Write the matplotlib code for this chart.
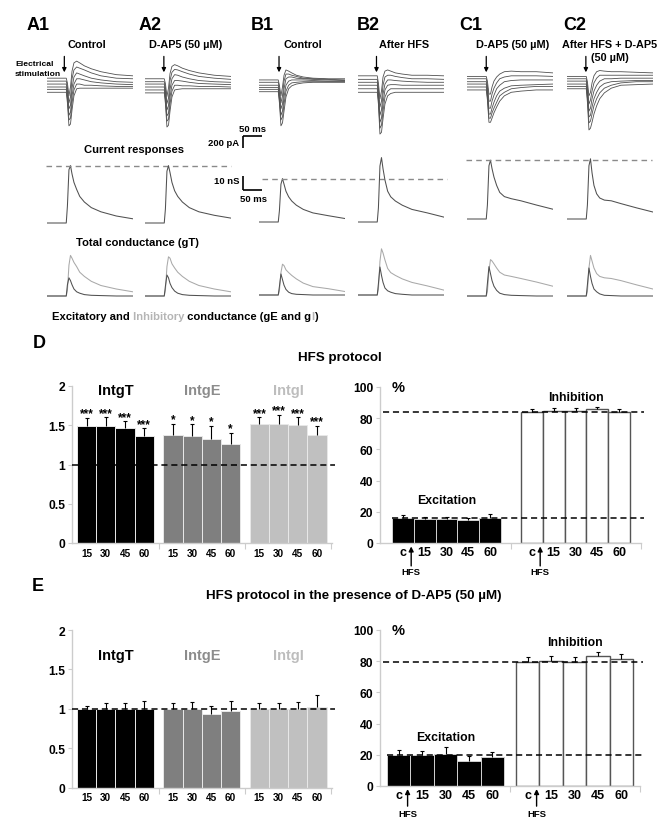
import numpy as np
import matplotlib
matplotlib.use('Agg')
import matplotlib.pyplot as plt

plt.rcParams['font.family'] = ['Liberation Sans', 'DejaVu Sans']
plt.rcParams['font.weight'] = 'bold'

# ---------------- data ----------------
panel_labels = ['A1', 'A2', 'B1', 'B2', 'C1', 'C2']
panel_titles = ['Control', 'D-AP5 (50 µM)', 'Control', 'After HFS',
                'D-AP5 (50 µM)', 'After HFS + D-AP5\n(50 µM)']

t_ms = [0, 50, 53, 57, 61, 65, 70, 77, 85, 97, 115, 140, 180, 223]

cur_A1 = [[150, 150, 70, -150, 0, 270, 410, 440, 410, 360, 310, 260, 210, 190],
          [100, 100, 0, -270, -170, 140, 290, 340, 320, 290, 240, 190, 150, 140],
          [50, 50, -70, -370, -310, -20, 170, 240, 220, 190, 150, 120, 90, 80],
          [0, 0, -140, -480, -430, -150, 50, 140, 140, 120, 90, 70, 50, 40],
          [-40, -40, -200, -560, -530, -270, -50, 50, 50, 30, 30, 20, 10, 10],
          [-90, -90, -270, -660, -630, -390, -150, -30, -20, -20, -20, -20, -20, -20]]
cur_A2 = [[140, 140, 60, -160, -20, 230, 350, 380, 360, 320, 280, 240, 200, 180],
          [90, 90, -10, -280, -190, 110, 250, 300, 290, 260, 220, 180, 150, 130],
          [50, 50, -80, -390, -320, -40, 140, 210, 200, 170, 140, 110, 90, 80],
          [0, 0, -150, -490, -450, -170, 30, 110, 110, 100, 80, 60, 50, 40],
          [-50, -50, -210, -580, -550, -290, -70, 30, 30, 20, 20, 10, 10, 0],
          [-100, -100, -280, -680, -650, -410, -170, -50, -40, -30, -30, -30, -30, -30]]
cur_B1 = [[120, 120, 30, -150, 0, 200, 290, 270, 240, 200, 170, 150, 140, 140],
          [80, 80, -30, -270, -150, 100, 220, 220, 200, 180, 150, 140, 130, 120],
          [30, 30, -100, -370, -290, -30, 140, 170, 170, 150, 140, 130, 120, 110],
          [-10, -10, -170, -480, -410, -170, 30, 100, 120, 120, 120, 110, 100, 100],
          [-40, -40, -220, -560, -510, -290, -70, 30, 70, 80, 90, 90, 90, 90],
          [-80, -80, -270, -660, -610, -410, -170, -30, 20, 50, 70, 80, 80, 80]]
cur_B2 = [[190, 190, 70, -200, -70, 170, 270, 290, 270, 240, 220, 200, 200, 190],
          [130, 130, -20, -340, -240, 30, 170, 200, 200, 180, 160, 140, 140, 130],
          [80, 80, -90, -480, -390, -120, 50, 120, 120, 110, 100, 90, 80, 80],
          [30, 30, -150, -600, -530, -270, -50, 30, 40, 40, 30, 30, 30, 30],
          [-30, -30, -220, -700, -650, -410, -170, -70, -30, -30, -30, -30, -30, -30],
          [-90, -90, -290, -800, -770, -540, -290, -150, -110, -90, -90, -90, -90, -90]]
cur_C1 = [[180, 180, 100, -120, -120, 0, 100, 170, 220, 260, 270, 260, 260, 240],
          [140, 140, 30, -240, -240, -120, -20, 70, 140, 170, 190, 190, 190, 180],
          [90, 90, -30, -360, -360, -240, -140, -30, 30, 90, 110, 120, 120, 120],
          [50, 50, -100, -460, -460, -360, -260, -150, -70, -20, 20, 30, 40, 50],
          [0, 0, -170, -530, -530, -440, -360, -260, -150, -90, -30, -10, 10, 10],
          [-50, -50, -220, -600, -600, -530, -440, -340, -240, -150, -90, -70, -50, -50]]
cur_C2 = [[180, 180, 90, -150, -90, 70, 190, 260, 280, 270, 260, 260, 250, 240],
          [140, 140, 20, -290, -220, -70, 70, 150, 200, 200, 200, 200, 200, 200],
          [100, 100, -50, -410, -360, -200, -70, 30, 100, 140, 140, 150, 150, 150],
          [50, 50, -120, -510, -480, -340, -200, -90, 0, 60, 90, 100, 110, 110],
          [10, 10, -190, -610, -580, -460, -320, -200, -100, -20, 30, 70, 90, 90],
          [-30, -30, -260, -730, -700, -600, -460, -320, -200, -100, -20, 30, 40, 50]]

gT_A1 = [0, 0, 12, 38, 41, 35, 29, 24, 19, 15, 11, 8, 5, 3]
gT_A2 = [0, 0, 10, 37, 41, 36, 29, 23, 19, 15, 11, 8, 5.5, 3.5]
gT_B1 = [0, 0, 8, 27, 31, 27, 22, 18, 15, 12, 9, 6.5, 4.5, 2.5]
gT_B2 = [0, 0, 10, 40, 46, 38, 30, 22, 18, 15, 12, 9, 6.5, 3.5]
gT_C1 = [0, 0, 10, 38, 42, 36, 30, 24, 19, 16, 14.5, 13, 10, 7]
gT_C2 = [0, 0, 10, 38, 43, 33, 24, 18, 15, 13.5, 13, 11, 8, 5]

gI_A1 = [0, 0, 4, 22, 29, 27, 24, 21, 17, 14, 10.5, 7.5, 5, 3]
gI_A2 = [0, 0, 4, 21, 28, 27, 23, 20, 17, 14, 10.5, 7.5, 5, 3]
gI_B1 = [0, 0, 3, 16, 22, 21, 18, 16, 14, 11.5, 8.5, 6, 4.5, 2.5]
gI_B2 = [0, 0, 4, 24, 33, 30, 25, 19, 16, 14, 11.5, 9, 6.5, 3.5]
gI_C1 = [0, 0, 3, 18, 26, 25, 23, 20, 17, 15, 14, 12.5, 10, 7]
gI_C2 = [0, 0, 3, 20, 29, 25, 20, 16, 14, 13, 12.5, 11, 8, 5]

gE_A1 = [0, 0, 8, 13, 11, 8, 5, 3, 2, 1, 0.5, 0.3, 0, 0]
gE_A2 = [0, 0, 7, 15, 13, 9, 6, 3.5, 2, 1, 0.5, 0.3, 0, 0]
gE_B1 = [0, 0, 6, 15, 11, 7, 4, 2, 1, 0.5, 0.3, 0, 0, 0]
gE_B2 = [0, 0, 8, 20, 14, 9, 5, 3, 2, 1, 0.5, 0, 0, 0]
gE_C1 = [0, 0, 9, 21, 16, 11, 7, 4, 2, 1, 0.5, 0.3, 0, 0]
gE_C2 = [0, 0, 8, 20, 14, 9, 5, 3, 1.5, 0.5, 0.3, 0, 0, 0]

currents = [cur_A1, cur_A2, cur_B1, cur_B2, cur_C1, cur_C2]
gT_all = [gT_A1, gT_A2, gT_B1, gT_B2, gT_C1, gT_C2]
gI_all = [gI_A1, gI_A2, gI_B1, gI_B2, gI_C1, gI_C2]
gE_all = [gE_A1, gE_A2, gE_B1, gE_B2, gE_C1, gE_C2]

# bar charts
time_labels = ['15', '30', '45', '60']
group_names = ['IntgT', 'IntgE', 'IntgI']
pct_labels = ['c', '15', '30', '45', '60']

D_IntgT = [1.49, 1.49, 1.46, 1.36]
D_IntgT_err = [0.10, 0.11, 0.09, 0.10]
D_IntgE = [1.37, 1.36, 1.33, 1.26]
D_IntgE_err = [0.15, 0.15, 0.16, 0.14]
D_IntgI = [1.52, 1.52, 1.50, 1.38]
D_IntgI_err = [0.08, 0.11, 0.10, 0.11]
D_stars = [['***'] * 4, ['*'] * 4, ['***'] * 4]

D_exc = [16.2, 15.3, 15.3, 14.6, 16.2]
D_exc_err = [1.9, 1.6, 1.6, 1.5, 2.4]
D_inh = [83.8, 84.8, 84.8, 85.6, 84.0]
D_inh_err = [1.8, 1.8, 1.7, 1.8, 1.8]

E_IntgT = [1.0, 1.0, 1.0, 1.0]
E_IntgT_err = [0.04, 0.07, 0.07, 0.10]
E_IntgE = [1.0, 1.0, 0.93, 0.97]
E_IntgE_err = [0.07, 0.09, 0.10, 0.13]
E_IntgI = [1.0, 1.0, 1.0, 1.02]
E_IntgI_err = [0.07, 0.07, 0.09, 0.15]

E_exc = [19.9, 19.6, 20.7, 16.2, 18.4]
E_exc_err = [3.4, 3.0, 4.1, 3.2, 3.6]
E_inh = [79.7, 80.3, 79.5, 83.5, 81.4]
E_inh_err = [3.0, 3.0, 3.2, 2.5, 3.2]

# ---------------- layout helpers ----------------
W, H = 672, 829
fig = plt.figure(figsize=(W / 100, H / 100), dpi=100)


def px_axes(x0, y0, x1, y1):
    return fig.add_axes([x0 / W, 1 - y1 / H, (x1 - x0) / W, (y1 - y0) / H])


def ftext(x, y, s, **kw):
    return fig.text(x / W, 1 - y / H, s, **kw)


PX_PER_MS = 0.385
T_MAX = t_ms[-1]
trace_w = T_MAX * PX_PER_MS
PA_PER_PX = 17.0
PX_PER_NS = 1.4

cur_top, cur_zero, cur_bot = 50, 88, 142
trace_x0 = [47, 145, 259, 358, 467, 567]
gT_base = [224, 224, 223, 223, 220, 220]
gEI_base = [297, 297, 296, 296, 297, 297]
stim_t = [45, 49, 52, 48, 50, 49]

label_x = [27, 139, 251, 357, 459, 563]
title_x = [87, 185.5, 303, 404, 513, 610]

TRACE = '#505050'

cur_axes, gT_axes = [], []
for i in range(6):
    x0 = trace_x0[i]
    ax = px_axes(x0, cur_top, x0 + trace_w, cur_bot)
    ax.set_xlim(0, T_MAX)
    ax.set_ylim((cur_zero - cur_bot) * PA_PER_PX, (cur_zero - cur_top) * PA_PER_PX)
    ax.axis('off')
    for tr in currents[i]:
        ax.plot(t_ms, tr, color=TRACE, lw=0.6)
    ax.annotate('', xy=(stim_t[i], 250), xytext=(stim_t[i], 520),
                arrowprops=dict(arrowstyle='-|>', color='k', lw=0.9,
                                mutation_scale=6, shrinkA=0, shrinkB=0))
    cur_axes.append(ax)

    b = gT_base[i]
    axg = px_axes(x0, b - 70, x0 + trace_w, b + 12)
    axg.set_xlim(0, T_MAX)
    axg.set_ylim(-12 / PX_PER_NS, 70 / PX_PER_NS)
    axg.axis('off')
    axg.plot(t_ms, gT_all[i], color=TRACE, lw=0.75)
    gT_axes.append(axg)

    b2 = gEI_base[i]
    axe = px_axes(x0, b2 - 70, x0 + trace_w, b2 + 12)
    axe.set_xlim(0, T_MAX)
    axe.set_ylim(-12 / PX_PER_NS, 70 / PX_PER_NS)
    axe.axis('off')
    axe.plot(t_ms, gI_all[i], color='#a9a9a9', lw=0.75)
    axe.plot(t_ms, gE_all[i], color=TRACE, lw=0.75)

    ftext(label_x[i], 25, panel_labels[i], fontsize=13, ha='left', va='center')
    for k, line in enumerate(panel_titles[i].split('\n')):
        ftext(title_x[i], 48 + 13 * k, line, fontsize=7.8, ha='center', va='baseline')

# dashed reference lines on total conductance
dash_spans = [(0, 46, 231), (2, 262, 447), (4, 466, 652)]
for idx, p0, p1 in dash_spans:
    ax = gT_axes[idx]
    x0 = trace_x0[idx]
    ax.axhline(max(gT_all[idx]), xmin=(p0 - x0) / trace_w, xmax=(p1 - x0) / trace_w,
               color='#8a8a8a', lw=1.0, ls=(0, (4, 3)), clip_on=False)

# scale bars (in B1 axes units)
sb_t0 = -41
axc = cur_axes[2]
axc.plot([sb_t0, sb_t0 + 50], [-830, -830], color='k', lw=1.2, clip_on=False, solid_capstyle='butt')
axc.plot([sb_t0, sb_t0], [-830, -1030], color='k', lw=1.2, clip_on=False, solid_capstyle='butt')
axg = gT_axes[2]
axg.plot([sb_t0, sb_t0 + 50], [23, 23], color='k', lw=1.2, clip_on=False, solid_capstyle='butt')
axg.plot([sb_t0, sb_t0], [23, 33], color='k', lw=1.2, clip_on=False, solid_capstyle='butt')
ftext(252.5, 129, '50 ms', fontsize=6.8, ha='center', va='center')
ftext(239, 143, '200 pA', fontsize=6.8, ha='right', va='center')
ftext(239, 182, '10 nS', fontsize=6.8, ha='right', va='center')
ftext(253, 200, '50 ms', fontsize=6.8, ha='center', va='center')

ftext(15, 64, 'Electrical', fontsize=6.1, ha='left', va='center')
ftext(15, 74, 'stimulation', fontsize=6.1, ha='left', va='center')
ftext(134, 150, 'Current responses', fontsize=8.1, ha='center', va='center')
ftext(137, 243, 'Total conductance (gT)', fontsize=8.1, ha='center', va='center')

parts = [('Excitatory and', 'k'), (' Inhibitory', '#b5b5b5'),
         (' conductance (gE and g', 'k'), ('I', '#b5b5b5'), (')', 'k')]
prev = ftext(52, 317, parts[0][0], fontsize=8.1, color=parts[0][1], ha='left', va='center')
for s, c in parts[1:]:
    prev = cur_axes[0].annotate(s, xy=(1, 0), xycoords=prev, ha='left', va='bottom',
                                fontsize=8.1, color=c, annotation_clip=False)

# ---------------- bar charts ----------------
SPINE = '#cccccc'
grp_colors = ['#000000', '#7f7f7f', '#c0c0c0']
grp_label_colors = ['#000000', '#8c8c8c', '#bdbdbd']


def style_axes(ax):
    for s in ['top', 'right']:
        ax.spines[s].set_visible(False)
    for s in ['left', 'bottom']:
        ax.spines[s].set_color(SPINE)
        ax.spines[s].set_linewidth(1.0)
    ax.tick_params(axis='y', length=3, width=0.8, color=SPINE, labelsize=8.7, pad=2)


def up_err(ax, x, v, e):
    cont = ax.errorbar(x, v, yerr=[np.zeros(len(v)), e], fmt='none', ecolor='k',
                       elinewidth=0.8, capsize=1.6, capthick=0.8, zorder=4)
    cont[1][0].set_visible(False)


def left_chart(rect, groups, errs, label_val, stars=None):
    ax = px_axes(*rect)
    style_axes(ax)
    bw_px = 19.2
    first_px = 77
    ax.set_xlim((rect[0] - first_px) / bw_px, (rect[2] - first_px) / bw_px)
    ax.set_ylim(0, 2)
    ax.set_yticks([0, 0.5, 1, 1.5, 2])
    ax.set_yticklabels(['0', '0.5', '1', '1.5', '2'])
    centers_all, labels_all = [], []
    for g in range(3):
        xs = [g * 4.5 + i + 0.5 for i in range(4)]
        ax.bar(xs, groups[g], width=1.0, color=grp_colors[g], edgecolor='#e8e8e8',
               linewidth=0.7, zorder=2)
        up_err(ax, xs, groups[g], errs[g])
        if stars is not None:
            for x, v, e, s in zip(xs, groups[g], errs[g], stars[g]):
                ax.annotate(s, xy=(x, v + e), xytext=(0, 1.2), textcoords='offset points',
                            ha='center', va='baseline', fontsize=8.5)
        ax.text(g * 4.5 + 2.0, label_val, group_names[g], color=grp_label_colors[g],
                fontsize=10.5, ha='center', va='center')
        centers_all += xs
        labels_all += time_labels
    ax.set_xticks(centers_all)
    ax.set_xticklabels(labels_all)
    ax.tick_params(axis='x', which='major', length=0, labelsize=7.2, pad=3.5)
    ax.set_xticks([4.25, 8.75, 13.25], minor=True)
    ax.tick_params(axis='x', which='minor', length=4, width=0.8, color=SPINE)
    ax.axhline(1, color='k', lw=1.1, ls=(0, (4, 2.5)), zorder=5, xmax=1.012, clip_on=False)
    return ax


def right_chart(rect, bw_px, exc_px, inh_px, exc, exc_err, inh, inh_err,
                exc_label_val, inh_label_val, arrow_pts):
    ax = px_axes(*rect)
    style_axes(ax)
    left_u = (rect[0] - exc_px) / bw_px
    right_u = (rect[2] - exc_px) / bw_px
    inh_u = (inh_px - exc_px) / bw_px
    ax.set_xlim(left_u, right_u)
    ax.set_ylim(0, 100)
    ax.set_yticks([0, 20, 40, 60, 80, 100])
    xe = [i + 0.5 for i in range(5)]
    xi = [inh_u + i + 0.5 for i in range(5)]
    ax.bar(xe, exc, width=1.0, color='black', edgecolor='#d0d0d0', linewidth=0.7, zorder=2)
    ax.bar(xi, inh, width=1.0, color='white', edgecolor='#555555', linewidth=1.0, zorder=2)
    up_err(ax, xe, exc, exc_err)
    up_err(ax, xi, inh, inh_err)
    ax.axhline(inh[0], color='k', lw=1.1, ls=(0, (4, 2.5)), zorder=5, clip_on=False,
               xmin=0.01, xmax=1.01)
    ax.axhline(exc[0], color='k', lw=1.1, ls=(0, (4, 2.5)), zorder=5, clip_on=False,
               xmin=(0 - left_u) / (right_u - left_u), xmax=1.01)
    ax.set_xticks(xe + xi)
    ax.set_xticklabels(pct_labels + pct_labels)
    ax.tick_params(axis='x', which='major', length=0, labelsize=9, pad=2.5)
    mid = (5 + inh_u) / 2
    ax.set_xticks([mid, right_u - 0.02], minor=True)
    ax.tick_params(axis='x', which='minor', length=4, width=0.8, color=SPINE)
    ax.text(2.5, exc_label_val, 'Excitation', fontsize=8.8, ha='center', va='center')
    ax.text(inh_u + 2.5, inh_label_val, 'Inhibition', fontsize=8.8, ha='center', va='center')
    ax.text(0.045, 1.0, '%', transform=ax.transAxes, fontsize=10.5, ha='left', va='center')
    tip, tail, lab = arrow_pts
    for base in (0.0, inh_u):
        u = base + 0.88
        ax.annotate('', xy=(u, -tip), xycoords=('data', 'axes points'),
                    xytext=(u, -tail), textcoords=('data', 'axes points'),
                    arrowprops=dict(arrowstyle='-|>', color='k', lw=1.0, mutation_scale=7,
                                    shrinkA=0, shrinkB=0), annotation_clip=False)
        ax.annotate('HFS', xy=(u, -lab), xycoords=('data', 'axes points'),
                    ha='center', va='center', fontsize=6.8, annotation_clip=False)
    return ax


# Panel D
ftext(33, 343, 'D', fontsize=13, ha='left', va='center')
ftext(340, 358, 'HFS protocol', fontsize=9.6, ha='center', va='center')
left_chart((72, 387, 332, 544), [D_IntgT, D_IntgE, D_IntgI],
           [D_IntgT_err, D_IntgE_err, D_IntgI_err], 1.95, D_stars)
right_chart((380, 388, 641, 544), 21.8, 392, 521, D_exc, D_exc_err, D_inh, D_inh_err,
            27.6, 93.8, (2.5, 16.5, 20.5))

# Panel E
ftext(32, 587, 'E', fontsize=13, ha='left', va='center')
ftext(354, 596, 'HFS protocol in the presence of D-AP5 (50 µM)', fontsize=9.6,
      ha='center', va='center')
left_chart((72, 631, 332, 788.5), [E_IntgT, E_IntgE, E_IntgI],
           [E_IntgT_err, E_IntgE_err, E_IntgI_err], 1.68)
right_chart((380, 631, 640, 787), 23.4, 387, 516, E_exc, E_exc_err, E_inh, E_inh_err,
            31.6, 92.0, (2.2, 14.5, 19.5))

fig.savefig('out.png', dpi=100)
